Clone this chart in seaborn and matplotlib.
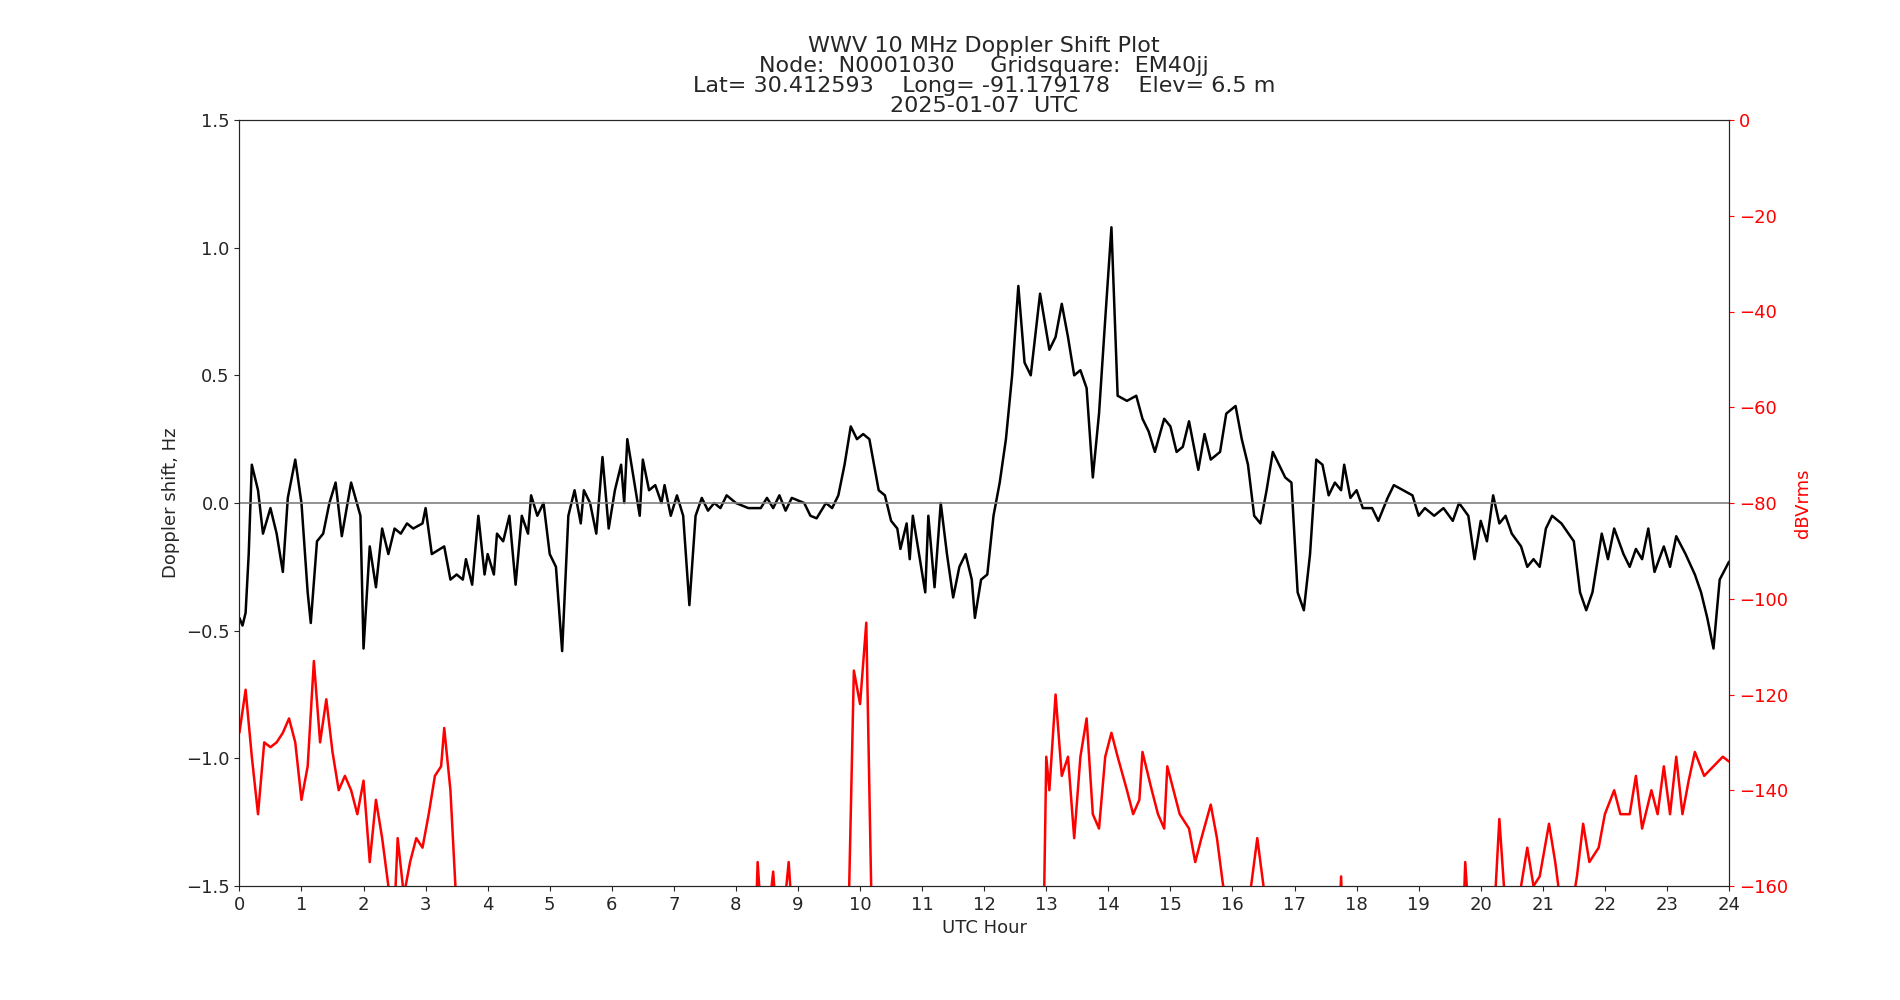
import matplotlib
matplotlib.use("Agg")
import matplotlib.pyplot as plt
import seaborn as sns
import numpy as np
import pandas as pd

dop_hours = [0.0,0.05,0.1,0.15,0.2,0.3,0.38,0.5,0.6,0.7,0.78,0.9,1.0,1.1,1.15,1.25,1.35,1.45,1.55,1.65,1.8,1.95,2.0,2.1,2.2,2.3,2.4,2.5,2.6,2.7,2.8,2.95,3.0,3.1,3.3,3.4,3.5,3.6,3.65,3.75,3.85,3.95,4.0,4.1,4.15,4.25,4.35,4.45,4.55,4.65,4.7,4.8,4.9,5.0,5.1,5.2,5.3,5.4,5.5,5.55,5.65,5.75,5.85,5.95,6.05,6.15,6.2,6.25,6.35,6.45,6.5,6.6,6.7,6.8,6.85,6.95,7.05,7.15,7.25,7.35,7.45,7.55,7.65,7.75,7.85,8.0,8.2,8.4,8.5,8.6,8.7,8.8,8.9,9.1,9.2,9.3,9.45,9.55,9.65,9.75,9.85,9.95,10.05,10.15,10.3,10.4,10.5,10.6,10.65,10.75,10.8,10.85,10.95,11.05,11.1,11.2,11.3,11.4,11.5,11.6,11.7,11.8,11.85,11.95,12.05,12.15,12.25,12.35,12.45,12.55,12.65,12.75,12.9,13.05,13.15,13.25,13.35,13.45,13.55,13.65,13.75,13.85,13.95,14.05,14.15,14.3,14.45,14.55,14.65,14.75,14.9,15.0,15.1,15.2,15.3,15.45,15.55,15.65,15.8,15.9,16.05,16.15,16.25,16.35,16.45,16.55,16.65,16.75,16.85,16.95,17.05,17.15,17.25,17.35,17.45,17.55,17.65,17.75,17.8,17.9,18.0,18.1,18.25,18.35,18.5,18.6,18.75,18.9,19.0,19.1,19.25,19.4,19.55,19.65,19.8,19.9,20.0,20.1,20.2,20.3,20.4,20.5,20.65,20.75,20.85,20.95,21.05,21.15,21.3,21.5,21.6,21.7,21.8,21.95,22.05,22.15,22.3,22.4,22.5,22.6,22.7,22.8,22.95,23.05,23.15,23.3,23.45,23.55,23.65,23.75,23.85,24.0]
dop_values = [-0.45,-0.48,-0.43,-0.2,0.15,0.05,-0.12,-0.02,-0.12,-0.27,0.02,0.17,0.0,-0.35,-0.47,-0.15,-0.12,0.0,0.08,-0.13,0.08,-0.05,-0.57,-0.17,-0.33,-0.1,-0.2,-0.1,-0.12,-0.08,-0.1,-0.08,-0.02,-0.2,-0.17,-0.3,-0.28,-0.3,-0.22,-0.32,-0.05,-0.28,-0.2,-0.28,-0.12,-0.15,-0.05,-0.32,-0.05,-0.12,0.03,-0.05,0.0,-0.2,-0.25,-0.58,-0.05,0.05,-0.08,0.05,0.0,-0.12,0.18,-0.1,0.05,0.15,0.0,0.25,0.1,-0.05,0.17,0.05,0.07,0.0,0.07,-0.05,0.03,-0.05,-0.4,-0.05,0.02,-0.03,0.0,-0.02,0.03,0.0,-0.02,-0.02,0.02,-0.02,0.03,-0.03,0.02,0.0,-0.05,-0.06,0.0,-0.02,0.03,0.15,0.3,0.25,0.27,0.25,0.05,0.03,-0.07,-0.1,-0.18,-0.08,-0.22,-0.05,-0.2,-0.35,-0.05,-0.33,0.0,-0.2,-0.37,-0.25,-0.2,-0.3,-0.45,-0.3,-0.28,-0.05,0.08,0.25,0.5,0.85,0.55,0.5,0.82,0.6,0.65,0.78,0.65,0.5,0.52,0.45,0.1,0.35,0.72,1.08,0.42,0.4,0.42,0.33,0.28,0.2,0.33,0.3,0.2,0.22,0.32,0.13,0.27,0.17,0.2,0.35,0.38,0.25,0.15,-0.05,-0.08,0.05,0.2,0.15,0.1,0.08,-0.35,-0.42,-0.2,0.17,0.15,0.03,0.08,0.05,0.15,0.02,0.05,-0.02,-0.02,-0.07,0.02,0.07,0.05,0.03,-0.05,-0.02,-0.05,-0.02,-0.07,0.0,-0.05,-0.22,-0.07,-0.15,0.03,-0.08,-0.05,-0.12,-0.17,-0.25,-0.22,-0.25,-0.1,-0.05,-0.08,-0.15,-0.35,-0.42,-0.35,-0.12,-0.22,-0.1,-0.2,-0.25,-0.18,-0.22,-0.1,-0.27,-0.17,-0.25,-0.13,-0.2,-0.28,-0.35,-0.45,-0.57,-0.3,-0.23]

pwr_hours = [0.0,0.1,0.2,0.3,0.4,0.5,0.6,0.7,0.8,0.9,1.0,1.1,1.2,1.3,1.4,1.5,1.6,1.7,1.8,1.9,2.0,2.1,2.2,2.3,2.4,2.5,2.55,2.65,2.75,2.85,2.95,3.05,3.15,3.25,3.3,3.4,3.5,3.6,8.3,8.35,8.45,8.6,8.7,8.85,8.95,9.8,9.9,10.0,10.1,10.2,12.95,13.0,13.05,13.15,13.25,13.35,13.45,13.55,13.65,13.75,13.85,13.95,14.05,14.15,14.3,14.4,14.5,14.55,14.7,14.8,14.9,14.95,15.05,15.15,15.3,15.4,15.5,15.65,15.75,15.85,16.0,16.1,16.3,16.4,16.5,16.6,17.7,17.75,17.8,19.7,19.75,19.85,20.2,20.3,20.4,20.5,20.65,20.75,20.85,20.95,21.1,21.2,21.3,21.4,21.55,21.65,21.75,21.9,22.0,22.15,22.25,22.4,22.5,22.6,22.75,22.85,22.95,23.05,23.15,23.25,23.35,23.45,23.6,23.75,23.9,24.0]
pwr_values = [-128,-119,-133,-145,-130,-131,-130,-128,-125,-130,-142,-135,-113,-130,-121,-132,-140,-137,-140,-145,-138,-155,-142,-150,-160,-165,-150,-162,-155,-150,-152,-145,-137,-135,-127,-140,-165,-175,-175,-155,-175,-157,-175,-155,-175,-175,-115,-122,-105,-175,-175,-133,-140,-120,-137,-133,-150,-133,-125,-145,-148,-133,-128,-133,-140,-145,-142,-132,-140,-145,-148,-135,-140,-145,-148,-155,-150,-143,-150,-160,-162,-170,-160,-150,-160,-175,-175,-158,-175,-175,-155,-175,-170,-146,-165,-175,-160,-152,-160,-158,-147,-155,-165,-170,-158,-147,-155,-152,-145,-140,-145,-145,-137,-148,-140,-145,-135,-145,-133,-145,-138,-132,-137,-135,-133,-134]

sns.set_style("ticks")
plt.rcParams['font.family'] = ['DejaVu Sans']
fig = plt.figure(figsize=(19, 10), dpi=100)
ax = fig.add_axes([0.126, 0.114, 0.784, 0.766])
d1 = pd.DataFrame({"h": dop_hours, "v": dop_values})
sns.lineplot(data=d1, x="h", y="v", ax=ax, color="black", linewidth=1.8)
ax.axhline(0, color="gray", linewidth=1.2)
ax.set_xlim(0, 24); ax.set_ylim(-1.5, 1.5)
ax.set_xticks(range(25))
ax.set_yticks([-1.5, -1.0, -0.5, 0.0, 0.5, 1.0, 1.5])
ax.tick_params(labelsize=13)
ax.set_xlabel("UTC Hour", fontsize=13)
ax.set_ylabel("Doppler shift, Hz", fontsize=13)
ax.set_title("WWV 10 MHz Doppler Shift Plot\nNode:  N0001030     Gridsquare:  EM40jj\n"
             "Lat= 30.412593    Long= -91.179178    Elev= 6.5 m\n2025-01-07  UTC",
             fontsize=16, linespacing=1.0)
ax2 = ax.twinx()
d2 = pd.DataFrame({"h": pwr_hours, "v": pwr_values})
sns.lineplot(data=d2, x="h", y="v", ax=ax2, color="red", linewidth=1.8)
ax2.set_ylim(-160, 0)
ax2.set_xlim(0, 24)
ax2.set_ylabel("dBVrms", color="red", fontsize=13)
ax2.tick_params(axis="y", colors="red", labelsize=13)
for s in ax.spines.values(): s.set_visible(True)
for s in ax2.spines.values(): s.set_visible(True)
fig.savefig("out.png", dpi=100)
